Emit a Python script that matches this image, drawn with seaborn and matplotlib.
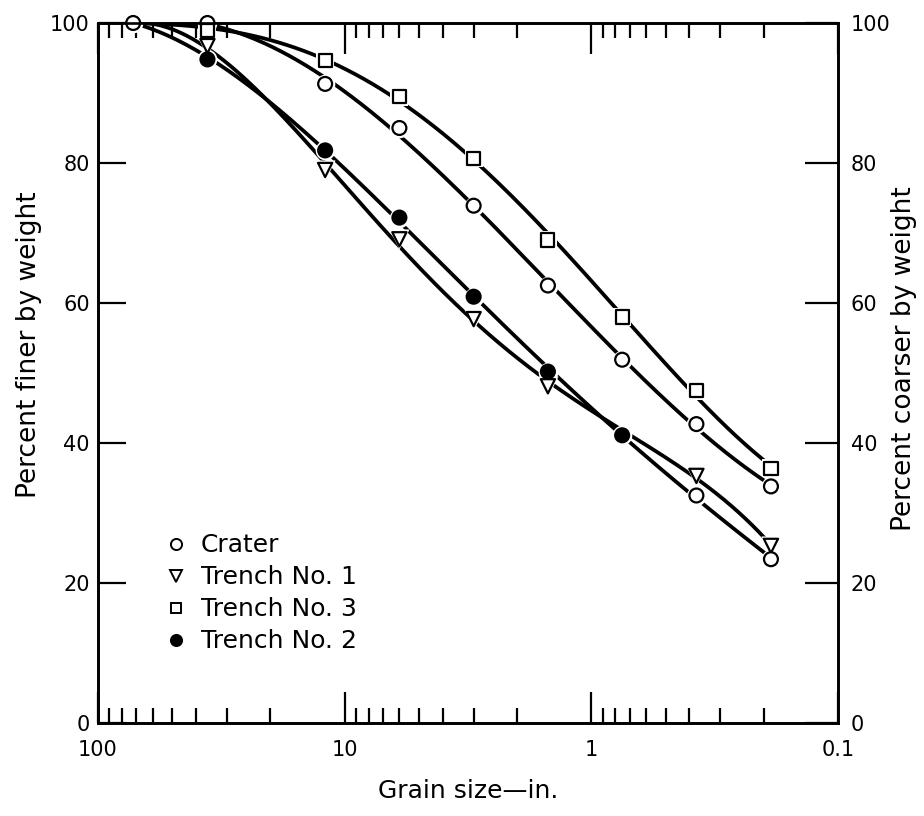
import numpy as np
import pandas as pd
import matplotlib
matplotlib.use("Agg")
import matplotlib.pyplot as plt
import matplotlib.ticker as mticker
from matplotlib.lines import Line2D
import seaborn as sns

# ---------------- data ----------------
grain_size = [72, 36, 12, 6, 3, 1.5, 0.75, 0.375, 0.187]   # inches
crater     = [100, 100, 91.3, 85.0, 73.9, 62.5, 51.9, 42.7, 33.8]
trench3    = [100, 98.9, 94.7, 89.5, 80.7, 69.0, 58.0, 47.5, 36.4]
trench1    = [100, 96.7, 79.0, 69.1, 57.7, 48.1, np.nan, 35.3, 25.3]
trench2    = [100, 94.8, 81.8, 72.2, 60.9, 50.2, 41.1, 32.5, 23.4]
series_names = ["Crater", "Trench No. 1", "Trench No. 3", "Trench No. 2"]
y_ticks = [0, 20, 40, 60, 80, 100]
x_ticks = [100, 10, 1, 0.1]
x_tick_labels = ["100", "10", "1", "0.1"]

rows = []
for name, vals in zip(series_names, [crater, trench1, trench3, trench2]):
    for s, v in zip(grain_size, vals):
        rows.append({"series": name, "size": s, "pct": v})
df = pd.DataFrame(rows).dropna()

markers = {"Crater": "o", "Trench No. 1": "v", "Trench No. 3": "s", "Trench No. 2": "o"}
faces = {"Crater": "white", "Trench No. 1": "white", "Trench No. 3": "white", "Trench No. 2": "black"}
msize = {"o": 100, "v": 105, "s": 90}

sns.set_theme(style="white")
plt.rcParams["font.family"] = ["DejaVu Sans"]
plt.rcParams["text.color"] = "black"
plt.rcParams["axes.labelcolor"] = "black"
plt.rcParams["xtick.color"] = "black"
plt.rcParams["ytick.color"] = "black"

fig = plt.figure(figsize=(9.24, 8.16), dpi=100)
ax = fig.add_axes([98 / 924, 1 - 723 / 816, 740 / 924, 700 / 816])

# smooth fitted curves (gradation curves) through the read points
for name in series_names:
    sub = df[df.series == name].sort_values("size")
    lx = np.log10(sub["size"].values)
    yv = sub["pct"].values
    w = np.ones_like(yv)
    w[-1] = 20.0  # curves all start at the common point
    coef = np.polyfit(lx, yv, 4, w=w)
    xn = np.linspace(lx.min(), lx.max(), 300)
    yn = np.minimum(np.polyval(coef, xn), 100.0)
    ax.plot(10 ** xn, yn, color="black", lw=2.7, zorder=2, solid_capstyle="round")

# markers
for name in series_names:
    sub = df[df.series == name]
    if name != "Crater":
        sub = sub[sub["size"] < 70]
    mk = markers[name]
    face = [faces[name]] * len(sub)
    if name == "Trench No. 2":
        face = ["white" if s < 0.5 else "black" for s in sub["size"]]
    ax.scatter(sub["size"], sub["pct"], marker=mk, s=msize[mk] * 2.0, c="white",
               edgecolors="white", linewidths=0, zorder=3)
    ax.scatter(sub["size"], sub["pct"], marker=mk, s=msize[mk], c=face,
               edgecolors="black", linewidths=1.6, zorder=4, clip_on=False)

ax.set_xscale("log")
ax.set_xlim(100, 0.1)
ax.set_ylim(0, 100)
ax.set_xticks(x_ticks)
ax.set_xticklabels(x_tick_labels)
ax.xaxis.set_minor_locator(mticker.LogLocator(base=10, subs=np.arange(2, 10)))
ax.xaxis.set_minor_formatter(mticker.NullFormatter())
ax.tick_params(axis="x", which="major", direction="in", top=True, bottom=True,
               length=22, width=1.6, labelsize=15, pad=12)
ax.tick_params(axis="x", which="minor", direction="in", top=True, bottom=True,
               length=11, width=1.6)
ax.set_yticks(y_ticks)
ax.tick_params(axis="y", direction="in", left=True, length=20, width=1.6,
               labelsize=15, pad=6)

ax2 = ax.twinx()
ax2.set_ylim(0, 100)
ax2.set_yticks(y_ticks)
ax2.tick_params(axis="y", direction="in", right=True, length=24, width=1.6,
                labelsize=15, pad=9)

for a in (ax, ax2):
    for sp in a.spines.values():
        sp.set_visible(True)
        sp.set_color("black")
        sp.set_linewidth(1.9)

ax.set_xlabel("Grain size\u2014in.", fontsize=18)
ax.xaxis.set_label_coords(0.5, -0.08)
ax.set_ylabel("Percent finer by weight", fontsize=19)
ax.yaxis.set_label_coords(-0.075, 0.54)
ax2.set_ylabel("Percent coarser by weight", fontsize=19)
ax2.yaxis.set_label_coords(1.072, 0.52)

handles = [
    Line2D([], [], ls="none", marker="o", mfc="white", mec="black", ms=8, mew=1.4),
    Line2D([], [], ls="none", marker="v", mfc="white", mec="black", ms=8, mew=1.4),
    Line2D([], [], ls="none", marker="s", mfc="white", mec="black", ms=7, mew=1.4),
    Line2D([], [], ls="none", marker="o", mfc="black", mec="black", ms=8, mew=1.4),
]
ax.legend(handles, series_names, loc="upper left", bbox_to_anchor=(0.075, 0.285),
          frameon=False, fontsize=18, handletextpad=0.5, labelspacing=0.32,
          handlelength=1.0, borderaxespad=0)

fig.savefig("out.png", dpi=100)
